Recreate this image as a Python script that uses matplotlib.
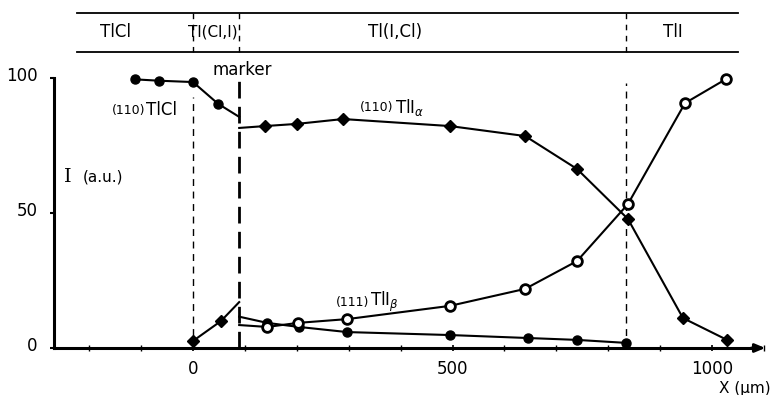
import matplotlib.pyplot as plt
from matplotlib.ticker import MultipleLocator
from matplotlib.transforms import ScaledTranslation

# phase band along the diffusion couple (x in um)
phase_names = ["TlCl", "Tl(Cl,I)", "Tl(I,Cl)", "TlI"]
phase_label_x = [-150, 39, 390, 925]
boundary_x = [0, 89, 834]

# (110) TlCl, filled circles (line runs on to the marker)
tlcl_x = [-112, -66, 0, 48]
tlcl_y = [99.5, 99.0, 98.5, 90.5]
tlcl_line_x = tlcl_x + [89]
tlcl_line_y = tlcl_y + [85.6]

# TlI grown left of the marker, filled diamonds
left_x = [0, 54]
left_y = [2.6, 10.0]
left_line_x = left_x + [89]
left_line_y = left_y + [17.0]

# (110) TlI alpha, filled diamonds
alpha_x = [139, 200, 289, 495, 640, 740, 838, 944, 1029]
alpha_y = [82.2, 83.0, 84.8, 82.2, 78.5, 66.3, 47.8, 11.1, 3.0]
alpha_start = 81.5

# (111) TlI beta, open circles
beta_x = [143, 202, 297, 495, 640, 740, 838, 948, 1027]
beta_y = [7.8, 9.3, 10.7, 15.6, 21.9, 32.2, 53.3, 90.7, 99.6]
beta_start = 8.5

# decreasing filled circles right of the marker
dec_x = [143, 204, 297, 495, 645, 740, 834]
dec_y = [9.3, 7.8, 5.9, 4.8, 3.7, 3.0, 1.9]
dec_start = 11.6

plt.rcParams['font.family'] = ['DejaVu Sans']
fig = plt.figure(figsize=(7.8, 3.95), dpi=100)
# axes placed so that x=0 sits at px 193 and y=0 at px 348
W, H = 780, 395
x0, x1 = -270, 1120
y0, y1 = -10, 128
sx, sy = 0.519, 2.7
left_px = 193 + sx * x0
right_px = 193 + sx * x1
bot_px = 348 - sy * y0
top_px = 348 - sy * y1
ax = fig.add_axes([left_px / W, 1 - bot_px / H, (right_px - left_px) / W, (bot_px - top_px) / H])
ax.set_xlim(x0, x1)
ax.set_ylim(y0, y1)

lw = 1.5
ax.plot(tlcl_line_x, tlcl_line_y, color='k', lw=lw)
ax.plot(tlcl_x, tlcl_y, 'o', color='k', ms=6.5)
ax.plot(left_line_x, left_line_y, color='k', lw=lw)
ax.plot(left_x, left_y, 'D', color='k', ms=6)
ax.plot([89] + alpha_x, [alpha_start] + alpha_y, color='k', lw=lw)
ax.plot(alpha_x, alpha_y, 'D', color='k', ms=6)
ax.plot([89] + dec_x, [dec_start] + dec_y, color='k', lw=lw)
ax.plot(dec_x, dec_y, 'o', color='k', ms=6.5)
ax.plot([89] + beta_x, [beta_start] + beta_y, color='k', lw=lw)
ax.plot(beta_x, beta_y, 'o', mfc='white', mec='k', mew=2, ms=7, zorder=5)

# phase band
band_lo, band_hi = 109.6, 124.1
ax.plot([-224, 1050], [band_hi, band_hi], color='k', lw=1.3, clip_on=False)
ax.plot([-224, 1050], [band_lo, band_lo], color='k', lw=1.3, clip_on=False)
for name, px in zip(phase_names, phase_label_x):
    fs = 11 if name == "Tl(Cl,I)" else 12
    ax.text(px, 117, name, ha='center', va='center', fontsize=fs)

# boundary dashed lines
for bx in boundary_x:
    ax.plot([bx, bx], [band_lo, band_hi], color='k', lw=1.0, ls=(0, (4, 4)))
ax.plot([0, 0], [0, 93], color='k', lw=1.0, ls=(0, (5, 4)))
ax.plot([89, 89], [0, 100.5], color='k', lw=2.0, ls=(0, (6, 3)))
ax.plot([834, 834], [0, 98], color='k', lw=1.0, ls=(0, (5, 4)))

# axes
for s in ['top', 'right']:
    ax.spines[s].set_visible(False)
ax.spines['left'].set_position(('data', -267))
ax.spines['left'].set_bounds(0, 100)
ax.spines['left'].set_linewidth(2.2)
ax.spines['bottom'].set_position(('data', 0))
ax.spines['bottom'].set_bounds(-267, 1085)
ax.spines['bottom'].set_linewidth(2.2)
ax.annotate('', xy=(1108, 0), xytext=(1070, 0),
            arrowprops=dict(arrowstyle='-|>,head_length=0.6,head_width=0.25', color='k', lw=2))

ax.set_xticks([0, 500, 1000])
ax.xaxis.set_minor_locator(MultipleLocator(100))
ax.set_yticks([0, 50, 100])
ax.tick_params(axis='x', which='major', direction='inout', length=5, width=1.2, labelsize=12, pad=6)
ax.tick_params(axis='x', which='minor', direction='inout', length=4, width=1.0)
ax.tick_params(axis='y', direction='out', length=3, width=1.5, labelsize=12, pad=9)
for lbl in ax.get_yticklabels():
    lbl.set_transform(lbl.get_transform() + ScaledTranslation(0, 4 / 100, fig.dpi_scale_trans))

# annotations
ax.text(-92, 88.1, "(110)", ha='right', va='center', fontsize=9)
ax.text(-90, 88.1, "TlCl", ha='left', va='center', fontsize=12)
ax.text(387, 89, "(110)", ha='right', va='center', fontsize=9)
ax.text(390, 89, r"TlI$_{\alpha}$", ha='left', va='center', fontsize=12)
ax.text(339, 17, "(111)", ha='right', va='center', fontsize=9)
ax.text(342, 17, r"TlI$_{\beta}$", ha='left', va='center', fontsize=12)
ax.text(94, 103, "marker", ha='center', va='center', fontsize=12)
ax.text(-242, 63.3, "I", ha='center', va='center', fontsize=14, family='DejaVu Serif')
ax.text(-212, 63.3, "(a.u.)", ha='left', va='center', fontsize=11)
ax.text(1112, -15, "X (µm)", ha='right', va='center', fontsize=11)

fig.savefig("out.png", dpi=100)
